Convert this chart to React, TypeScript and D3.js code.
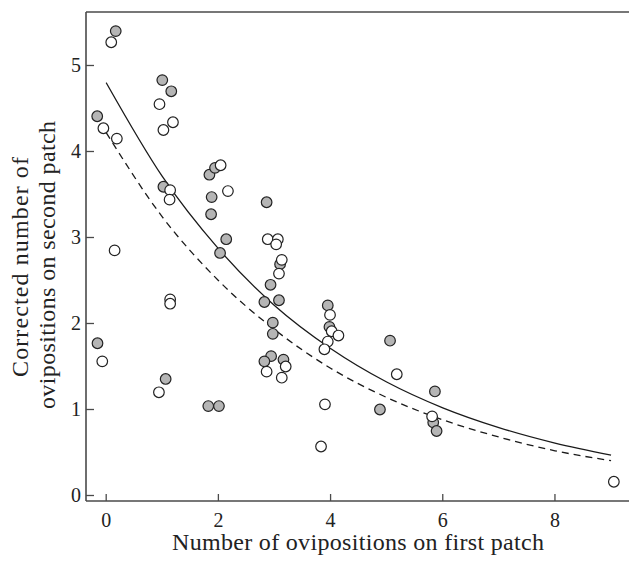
import React from "react";
import * as d3 from "d3";

// Grey (filled) points: [first patch, corrected second patch]
const greyX = [0.17, -0.16, 1.0, 1.16, 1.84, 1.02, 1.94, 1.88, 1.87, 2.86, 2.14, 2.03, 3.1, 2.93, 2.82, 3.08, 2.97, 2.97, 2.94, 2.82, 3.16, 3.95, 3.98, 5.06, 5.86, 4.88, 5.83, 5.89, -0.155, 1.06, 1.82, 2.01];
const greyY = [5.4, 4.41, 4.83, 4.7, 3.73, 3.59, 3.81, 3.47, 3.27, 3.41, 2.98, 2.82, 2.69, 2.45, 2.25, 2.27, 2.01, 1.88, 1.62, 1.56, 1.58, 2.21, 1.96, 1.8, 1.21, 1.0, 0.85, 0.75, 1.77, 1.355, 1.04, 1.04];

// White (open) points
const whiteX = [0.09, -0.05, 0.19, 0.95, 1.19, 1.02, 1.14, 1.13, 0.15, 1.14, 1.14, -0.07, 0.94, 2.04, 2.17, 2.88, 3.06, 3.03, 3.13, 3.08, 2.86, 3.2, 3.13, 3.99, 4.02, 4.14, 3.95, 3.89, 5.18, 3.9, 5.81, 3.83, 9.05];
const whiteY = [5.27, 4.27, 4.15, 4.55, 4.34, 4.25, 3.55, 3.44, 2.85, 2.28, 2.23, 1.56, 1.2, 3.84, 3.54, 2.98, 2.98, 2.92, 2.74, 2.58, 1.44, 1.5, 1.37, 2.1, 1.91, 1.86, 1.79, 1.7, 1.41, 1.06, 0.92, 0.57, 0.16];

// Fitted curves
const curveX = [0, 1, 2, 3, 4, 5, 6, 7, 8, 9];
const solidY = [4.8, 3.71, 2.87, 2.21, 1.71, 1.32, 1.02, 0.79, 0.61, 0.47];
const dashedY = [4.22, 3.24, 2.5, 1.93, 1.48, 1.14, 0.88, 0.68, 0.52, 0.405];

const xTicks = [0, 2, 4, 6, 8];
const yTicks = [0, 1, 2, 3, 4, 5];

const xTitle = "Number of ovipositions on first patch";
const yTitle1 = "Corrected number of";
const yTitle2 = "ovipositions on second patch";

const W = 629;
const H = 561;
const FONT = "'Liberation Serif', 'DejaVu Serif', serif";
const AXIS = "#4a4a4a";
const TEXT = "#222";

export default function App() {
  const left = 86, right = 629, top = 12, bottom = 501;
  const x = d3.scaleLinear().domain([-0.36, 9.32]).range([left, right]);
  const y = d3.scaleLinear().domain([-0.064, 5.622]).range([bottom, top]);

  const line = d3
    .line<[number, number]>()
    .x((d) => x(d[0]))
    .y((d) => y(d[1]))
    .curve(d3.curveMonotoneX);

  const solid = line(curveX.map((v, i) => [v, solidY[i]] as [number, number])) || "";
  const dashed = line(curveX.map((v, i) => [v, dashedY[i]] as [number, number])) || "";

  const r = 5.3;
  const yMid = 265;

  return (
    <svg
      width={W}
      height={H}
      style={{ position: "absolute", left: 0, top: 0, display: "block", background: "#fff" }}
      fontFamily={FONT}
    >
      {/* frame: left, top, bottom */}
      <line x1={left} x2={left} y1={top} y2={bottom} stroke={AXIS} strokeWidth={1.6} />
      <line x1={left} x2={right} y1={top} y2={top} stroke={AXIS} strokeWidth={1.6} />
      <line x1={left} x2={right} y1={bottom} y2={bottom} stroke={AXIS} strokeWidth={1.6} />

      {/* y ticks */}
      {yTicks.map((t) => (
        <g key={"y" + t}>
          <line x1={left} x2={left + 8} y1={y(t)} y2={y(t)} stroke={AXIS} strokeWidth={1.3} />
          <text x={left - 5} y={y(t)} dy="0.35em" textAnchor="end" fontSize={20} fill={TEXT}>
            {t}
          </text>
        </g>
      ))}

      {/* x ticks */}
      {xTicks.map((t) => (
        <g key={"x" + t}>
          <line x1={x(t)} x2={x(t)} y1={bottom} y2={bottom - 7} stroke={AXIS} strokeWidth={1.3} />
          <text x={x(t)} y={527} textAnchor="middle" fontSize={20} fill={TEXT}>
            {t}
          </text>
        </g>
      ))}

      {/* curves */}
      <path d={solid} fill="none" stroke="#1a1a1a" strokeWidth={1.3} />
      <path d={dashed} fill="none" stroke="#1a1a1a" strokeWidth={1.3} strokeDasharray="7,5" />

      {/* points */}
      {greyX.map((v, i) => (
        <circle key={"g" + i} cx={x(v)} cy={y(greyY[i])} r={r} fill="#b5b5b5" stroke="#222" strokeWidth={1.2} />
      ))}
      {whiteX.map((v, i) => (
        <circle key={"w" + i} cx={x(v)} cy={y(whiteY[i])} r={r} fill="#fff" stroke="#222" strokeWidth={1.2} />
      ))}

      {/* titles */}
      <text x={358} y={550} textAnchor="middle" fontSize={24} fill={TEXT} textLength={372} lengthAdjust="spacing">
        {xTitle}
      </text>
      <text
        transform={`translate(28,${yMid + 2}) rotate(-90)`}
        textAnchor="middle"
        fontSize={24}
        fill={TEXT}
        textLength={220}
        lengthAdjust="spacing"
      >
        {yTitle1}
      </text>
      <text
        transform={`translate(55,${yMid}) rotate(-90)`}
        textAnchor="middle"
        fontSize={24}
        fill={TEXT}
        textLength={288}
        lengthAdjust="spacing"
      >
        {yTitle2}
      </text>
    </svg>
  );
}
